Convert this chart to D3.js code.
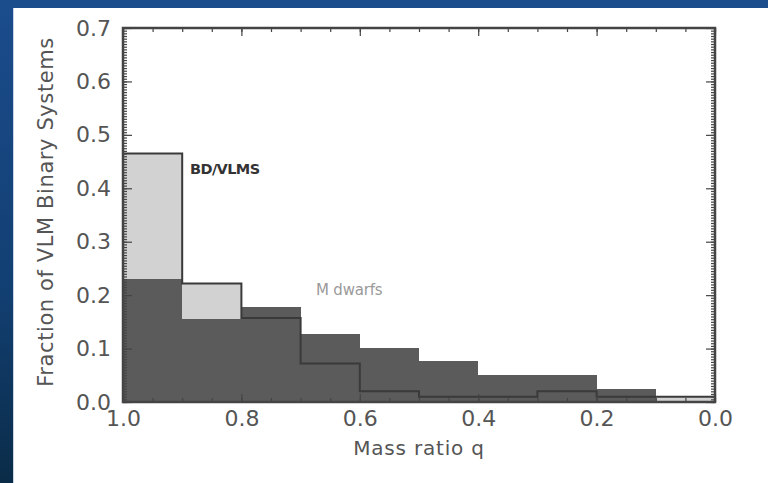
<!DOCTYPE html>
<html><head><meta charset="utf-8">
<script src="https://cdn.jsdelivr.net/npm/d3@7"></script>
<style>html,body{margin:0;padding:0;background:#fff;}svg{display:block;}</style>
</head><body>
<svg id="c" width="768" height="483"></svg>
<script>
// Bin edges (mass ratio q), 0.1 wide, from 1.0 down to 0.0
const binStarts = [1.0, 0.9, 0.8, 0.7, 0.6, 0.5, 0.4, 0.3, 0.2, 0.1];
const bdVlms   = [0.465, 0.222, 0.157, 0.072, 0.020, 0.010, 0.010, 0.020, 0.010, 0.010];
const mDwarfs  = [0.230, 0.155, 0.178, 0.127, 0.102, 0.076, 0.050, 0.050, 0.025, 0.000];
const yTicks = [0.0, 0.1, 0.2, 0.3, 0.4, 0.5, 0.6, 0.7];
const xTicks = [1.0, 0.8, 0.6, 0.4, 0.2, 0.0];

const FONT = "DejaVu Sans, Verdana, sans-serif";
const svg = d3.select("#c");
const defs = svg.append("defs");
const g = defs.append("linearGradient").attr("id","bg").attr("x1",0).attr("y1",0).attr("x2",0).attr("y2",1);
g.append("stop").attr("offset","0%").attr("stop-color","#1b4c8c");
g.append("stop").attr("offset","60%").attr("stop-color","#123f72");
g.append("stop").attr("offset","100%").attr("stop-color","#0a2c48");
svg.append("rect").attr("width",768).attr("height",483).attr("fill","url(#bg)");
svg.append("rect").attr("x",13).attr("y",8).attr("width",755).attr("height",475).attr("fill","#fff");
svg.append("line").attr("x1",13.5).attr("x2",13.5).attr("y1",8).attr("y2",483).attr("stroke","#c8d4e4").attr("stroke-width",1);

const L = 123, R = 715, T = 28, B = 402;
const x = d3.scaleLinear().domain([1.0, 0.0]).range([L, R]);
const y = d3.scaleLinear().domain([0, 0.7]).range([B, T]);

const bins = binStarts.map((s,i)=>({x0:s, x1:+(s-0.1).toFixed(2), a:bdVlms[i], b:mDwarfs[i]}));

// light histogram fill
svg.append("g").attr("shape-rendering","crispEdges").selectAll("rect").data(bins).join("rect")
  .attr("x", d=>x(d.x0)).attr("width", d=>x(d.x1)-x(d.x0))
  .attr("y", d=>y(d.a)).attr("height", d=>y(0)-y(d.a))
  .attr("fill","#d2d2d2");
// dark histogram fill
svg.append("g").attr("shape-rendering","crispEdges").selectAll("rect").data(bins).join("rect")
  .attr("x", d=>x(d.x0)).attr("width", d=>x(d.x1)-x(d.x0))
  .attr("y", d=>y(d.b)).attr("height", d=>y(0)-y(d.b))
  .attr("fill","#5b5b5b");
// light histogram outline (step)
const pts = [];
pts.push([x(bins[0].x0), y(0)]);
bins.forEach(d=>{ pts.push([x(d.x0), y(d.a)]); pts.push([x(d.x1), y(d.a)]); });
pts.push([x(bins[bins.length-1].x1), y(0)]);
svg.append("path").attr("d", d3.line()(pts)).attr("fill","none")
  .attr("stroke","#3a3a3a").attr("stroke-width",2);

// axes
const axCol = "#444";
const yMinor = d3.range(0, 0.7001, 0.005);
const xMinor = d3.range(0, 1.0001, 0.05);
function ax(axisFn, tr){ return svg.append("g").attr("transform",tr).call(axisFn); }
// left
ax(d3.axisRight(y).tickValues(yMinor).tickSize(4).tickFormat(""), `translate(${L},0)`);
ax(d3.axisRight(y).tickValues(yTicks).tickSize(9).tickFormat(""), `translate(${L},0)`);
ax(d3.axisLeft(y).tickValues(yTicks).tickSize(0).tickPadding(12).tickFormat(d3.format(".1f")), `translate(${L},0)`);
// right
ax(d3.axisLeft(y).tickValues(yMinor).tickSize(4).tickFormat(""), `translate(${R},0)`);
ax(d3.axisLeft(y).tickValues(yTicks).tickSize(9).tickFormat(""), `translate(${R},0)`);
// bottom
ax(d3.axisTop(x).tickValues(xMinor).tickSize(4).tickFormat(""), `translate(0,${B})`);
ax(d3.axisTop(x).tickValues(xTicks).tickSize(8).tickFormat(""), `translate(0,${B})`);
ax(d3.axisBottom(x).tickValues(xTicks).tickSize(0).tickPadding(8).tickFormat(d3.format(".1f")), `translate(0,${B})`);
// top
ax(d3.axisBottom(x).tickValues(xMinor).tickSize(4).tickFormat(""), `translate(0,${T})`);
ax(d3.axisBottom(x).tickValues(xTicks).tickSize(8).tickFormat(""), `translate(0,${T})`);

svg.selectAll(".domain").remove();
svg.selectAll(".tick line").attr("stroke",axCol).attr("stroke-width",1.2);
svg.selectAll(".tick text").attr("fill","#555").attr("font-family",FONT).attr("font-size",22);
svg.append("rect").attr("x",L).attr("y",T).attr("width",R-L).attr("height",B-T)
  .attr("fill","none").attr("stroke",axCol).attr("stroke-width",2.5);

// titles
svg.append("text").attr("x", (L+R)/2).attr("y", 455).attr("text-anchor","middle")
  .attr("fill","#555").attr("font-family",FONT).attr("font-size",20)
  .attr("letter-spacing",0.8).text("Mass ratio q");
svg.append("text").attr("transform", `translate(53,212) rotate(-90)`).attr("text-anchor","middle")
  .attr("fill","#555").attr("font-family",FONT).attr("font-size",21)
  .attr("letter-spacing",0.6).text("Fraction of VLM Binary Systems");

// series labels
svg.append("text").attr("x", 190).attr("y", 174)
  .attr("fill","#333").attr("font-family",FONT).attr("font-size",14.5).attr("font-weight","bold")
  .attr("letter-spacing",-0.6).text("BD/VLMS");
svg.append("text").attr("x", 316).attr("y", 295)
  .attr("fill","#9a9a9a").attr("font-family",FONT).attr("font-size",15)
  .attr("letter-spacing",-0.2).text("M dwarfs");
</script>
</body></html>
